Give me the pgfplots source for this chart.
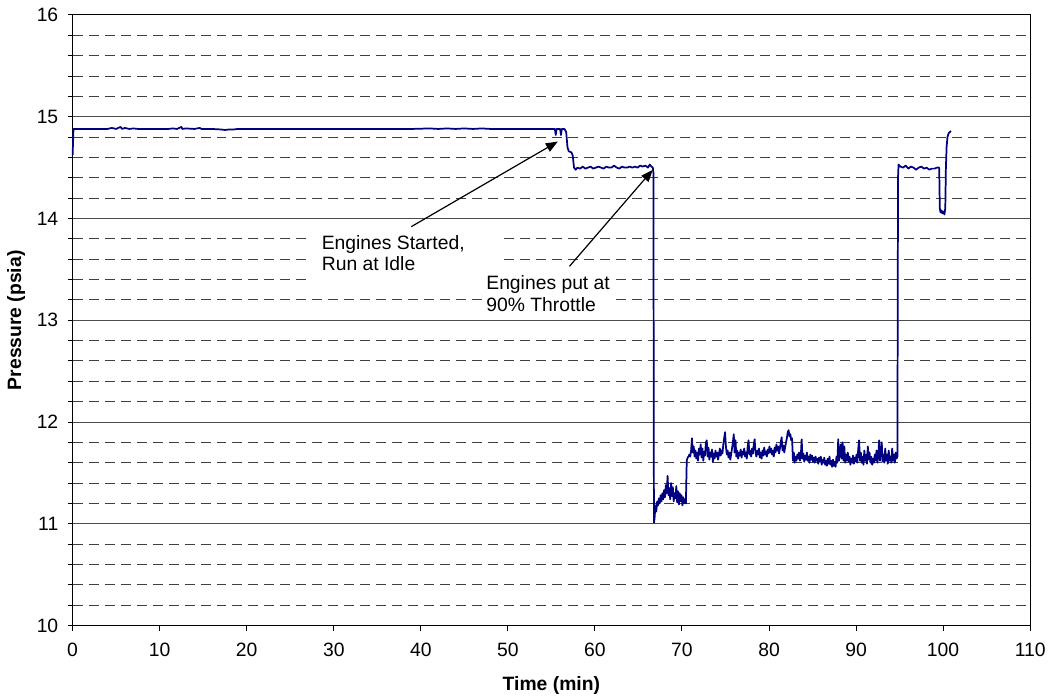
\documentclass[border=0pt]{standalone}
\usepackage{fontspec}
\setmainfont{Liberation Sans}
\usepackage{pgfplots}
\pgfplotsset{compat=1.18}
\usetikzlibrary{arrows.meta}
\definecolor{navy}{RGB}{0,0,128}
\begin{document}
\begin{tikzpicture}
\begin{axis}[
  scale only axis, width=718.7pt, height=458.25pt,
  xmin=0, xmax=110, ymin=10, ymax=16,
  xtick={0,10,...,110}, ytick={10,11,...,16},
  minor y tick num=4,
  ymajorgrids, yminorgrids,
  major grid style={black!70, line width=0.75pt},
  minor grid style={black!75, line width=0.75pt, dash pattern=on 7.5pt off 4.5pt},
  tick align=outside, major tick length=3.75pt, minor tick length=3.75pt,
  tick style={black, line width=0.75pt},
  axis line style={black, line width=0.75pt},
  xtick pos=left, ytick pos=left,
  /pgf/number format/assume math mode=true,
  tick label style={font=\fontsize{14.5}{17}\selectfont},
  xticklabel style={yshift=-6pt},
  yticklabel style={xshift=-3.5pt},
  xlabel={\bfseries Time (min)}, ylabel={\bfseries Pressure (psia)},
  label style={font=\fontsize{14.5}{17}\selectfont},
  xlabel style={at={(axis description cs:0.5,-0.0982)}, anchor=center},
  ylabel style={at={(axis description cs:-0.0591,0.5)}, anchor=center},
  clip=false,
]
\addplot[navy, line width=1.3pt, line join=round] table {
x y
0 14.62
0.1 14.88
1 14.88
2 14.88
3 14.88
4 14.88
4.5 14.89
5 14.88
5.5 14.90
5.7 14.88
6 14.89
6.5 14.88
7 14.885
7.5 14.88
8 14.88
9 14.88
10 14.88
11 14.88
11.5 14.885
12 14.88
12.5 14.90
12.6 14.88
13 14.885
14 14.88
14.6 14.89
14.8 14.88
15 14.88
16 14.88
17 14.875
17.5 14.87
18 14.875
18.5 14.875
19 14.88
21 14.88
23 14.88
25 14.88
27 14.88
29 14.88
31 14.88
33 14.88
35 14.88
37 14.88
39 14.88
41 14.885
42 14.88
43 14.885
44 14.88
45 14.885
46 14.88
47 14.885
48 14.88
50 14.88
52 14.88
54 14.88
55.4 14.88
55.5 14.82
55.6 14.88
56.0 14.88
56.1 14.82
56.2 14.88
56.5 14.88
56.7 14.85
56.85 14.70
57.0 14.66
57.3 14.65
57.45 14.62
57.6 14.50
57.8 14.48
58.0 14.50
58.3 14.49
58.6 14.51
58.9 14.49
59.2 14.50
59.5 14.51
59.8 14.49
60.1 14.50
60.4 14.51
60.7 14.50
61.0 14.49
61.3 14.51
61.6 14.50
61.9 14.50
62.2 14.52
62.5 14.50
62.8 14.49
63.1 14.51
63.4 14.50
63.7 14.50
64.0 14.51
64.3 14.50
64.6 14.51
64.9 14.50
65.2 14.52
65.5 14.51
65.8 14.52
66.1 14.50
66.3 14.53
66.5 14.51
66.65 14.50
66.72 14.45
66.78 11.01
66.85 11.05
66.95 11.18
67.05 11.12
67.15 11.22
67.25 11.18
67.35 11.25
67.45 11.20
67.55 11.28
67.65 11.22
67.75 11.30
67.85 11.24
67.95 11.33
68.05 11.26
68.15 11.38
68.25 11.30
68.35 11.47
68.45 11.28
68.55 11.35
68.65 11.24
68.75 11.40
68.85 11.27
68.95 11.36
69.05 11.22
69.15 11.30
69.25 11.25
69.35 11.37
69.45 11.21
69.55 11.32
69.65 11.19
69.75 11.30
69.85 11.22
69.95 11.28
70.05 11.18
70.15 11.26
70.25 11.20
70.35 11.24
70.45 11.20
70.55 11.62
70.65 11.65
70.75 11.66
70.85 11.68
70.95 11.66
71.05 11.72
71.15 11.84
71.25 11.70
71.35 11.76
71.45 11.66
71.55 11.72
71.65 11.64
71.75 11.70
71.85 11.62
71.95 11.74
72.05 11.68
72.15 11.78
72.25 11.65
72.35 11.74
72.45 11.62
72.55 11.71
72.65 11.67
72.75 11.80
72.85 11.82
72.95 11.66
73.05 11.75
73.15 11.63
73.25 11.70
73.35 11.66
73.45 11.73
73.55 11.61
73.65 11.69
73.75 11.64
73.85 11.72
73.95 11.66
74.05 11.70
74.15 11.63
74.25 11.68
74.35 11.74
74.45 11.67
74.55 11.72
74.65 11.69
74.75 11.78
74.85 11.84
74.95 11.90
75.05 11.76
75.15 11.68
75.25 11.72
75.35 11.65
75.45 11.70
75.55 11.63
75.65 11.68
75.75 11.74
75.85 11.80
75.95 11.88
76.05 11.70
76.15 11.82
76.25 11.66
76.35 11.72
76.45 11.64
76.55 11.70
76.65 11.67
76.75 11.73
76.85 11.65
76.95 11.71
77.05 11.68
77.15 11.74
77.25 11.66
77.35 11.70
77.45 11.64
77.55 11.76
77.65 11.82
77.75 11.68
77.85 11.72
77.95 11.66
78.05 11.74
78.15 11.69
78.25 11.78
78.35 11.83
78.45 11.70
78.55 11.66
78.65 11.72
78.75 11.68
78.85 11.74
78.95 11.65
79.05 11.70
79.15 11.64
79.25 11.72
79.35 11.67
79.45 11.75
79.55 11.68
79.65 11.71
79.75 11.66
79.85 11.73
79.95 11.69
80.05 11.76
80.15 11.70
80.25 11.74
80.35 11.68
80.45 11.72
80.55 11.66
80.65 11.75
80.75 11.70
80.85 11.78
80.95 11.72
81.05 11.76
81.15 11.69
81.25 11.74
81.35 11.80
81.45 11.85
81.55 11.72
81.65 11.77
81.75 11.70
81.85 11.75
81.95 11.80
82.05 11.84
82.15 11.90
82.25 11.92
82.35 11.86
82.45 11.88
82.55 11.82
82.65 11.84
82.75 11.62
82.85 11.70
82.95 11.60
83.05 11.66
83.15 11.62
83.25 11.68
83.35 11.64
83.45 11.70
83.55 11.62
83.65 11.66
83.75 11.83
83.85 11.64
83.95 11.69
84.05 11.61
84.15 11.67
84.25 11.63
84.35 11.70
84.45 11.62
84.55 11.66
84.65 11.60
84.75 11.68
84.85 11.63
84.95 11.67
85.05 11.61
85.15 11.65
85.25 11.60
85.35 11.66
85.45 11.62
85.55 11.64
85.65 11.59
85.75 11.65
85.85 11.61
85.95 11.66
86.05 11.58
86.15 11.63
86.25 11.60
86.35 11.65
86.45 11.58
86.55 11.62
86.65 11.57
86.75 11.64
86.85 11.59
86.95 11.66
87.05 11.58
87.15 11.62
87.25 11.56
87.35 11.63
87.45 11.57
87.55 11.61
87.65 11.56
87.75 11.66
87.85 11.60
87.95 11.83
88.05 11.62
88.15 11.70
88.25 11.78
88.35 11.64
88.45 11.80
88.55 11.62
88.65 11.76
88.75 11.60
88.85 11.68
88.95 11.62
89.05 11.70
89.15 11.61
89.25 11.66
89.35 11.58
89.45 11.64
89.55 11.60
89.65 11.67
89.75 11.59
89.85 11.65
89.95 11.61
90.05 11.68
90.15 11.60
90.25 11.74
90.35 11.82
90.45 11.62
90.55 11.70
90.65 11.60
90.75 11.66
90.85 11.58
90.95 11.72
91.05 11.62
91.15 11.68
91.25 11.59
91.35 11.76
91.45 11.63
91.55 11.70
91.65 11.60
91.75 11.66
91.85 11.58
91.95 11.64
92.05 11.60
92.15 11.68
92.25 11.62
92.35 11.72
92.45 11.60
92.55 11.66
92.65 11.82
92.75 11.62
92.85 11.70
92.95 11.80
93.05 11.61
93.15 11.68
93.25 11.60
93.35 11.74
93.45 11.62
93.55 11.68
93.65 11.59
93.75 11.72
93.85 11.62
93.95 11.66
94.05 11.60
94.15 11.74
94.25 11.62
94.35 11.68
94.45 11.60
94.55 11.70
94.65 11.64
94.75 11.66
94.82 14.40
94.88 14.53
95.1 14.51
95.4 14.50
95.7 14.52
96.0 14.49
96.3 14.51
96.6 14.50
96.9 14.48
97.2 14.50
97.5 14.51
97.8 14.49
98.1 14.50
98.4 14.48
98.7 14.49
99.0 14.49
99.3 14.50
99.55 14.50
99.62 14.10
99.7 14.06
99.8 14.08
99.9 14.05
100.0 14.07
100.15 14.04
100.25 14.10
100.32 14.50
100.4 14.70
100.5 14.80
100.65 14.84
100.9 14.86
};
% annotation boxes
\fill[white] (axis cs:27.47,13.30) rectangle (axis cs:49.39,13.985);
\fill[white] (axis cs:47.0,13.015) rectangle (axis cs:61.7,13.50);
\node[anchor=base west, inner sep=0pt, font=\fontsize{14.5}{17}\selectfont] at (axis cs:28.6,13.699) {Engines Started,};
\node[anchor=base west, inner sep=0pt, font=\fontsize{14.5}{17}\selectfont] at (axis cs:28.6,13.486) {Run at Idle};
\node[anchor=base west, inner sep=0pt, font=\fontsize{14.5}{17}\selectfont] at (axis cs:47.5,13.307) {Engines put at};
\node[anchor=base west, inner sep=0pt, font=\fontsize{14.5}{17}\selectfont] at (axis cs:47.5,13.087) {90\% Throttle};
\draw[black, line width=0.9pt, -{Triangle[length=9pt,width=7pt]}] (axis cs:38.91,13.92) -- (axis cs:55.74,14.756);
\draw[black, line width=0.9pt, -{Triangle[length=9pt,width=7pt]}] (axis cs:57.08,13.53) -- (axis cs:66.64,14.478);
\end{axis}
\path ([shift={(-54.5pt,-54pt)}]current axis.south west) rectangle ([shift={(14.25pt,11.25pt)}]current axis.north east);
\end{tikzpicture}
\end{document}
